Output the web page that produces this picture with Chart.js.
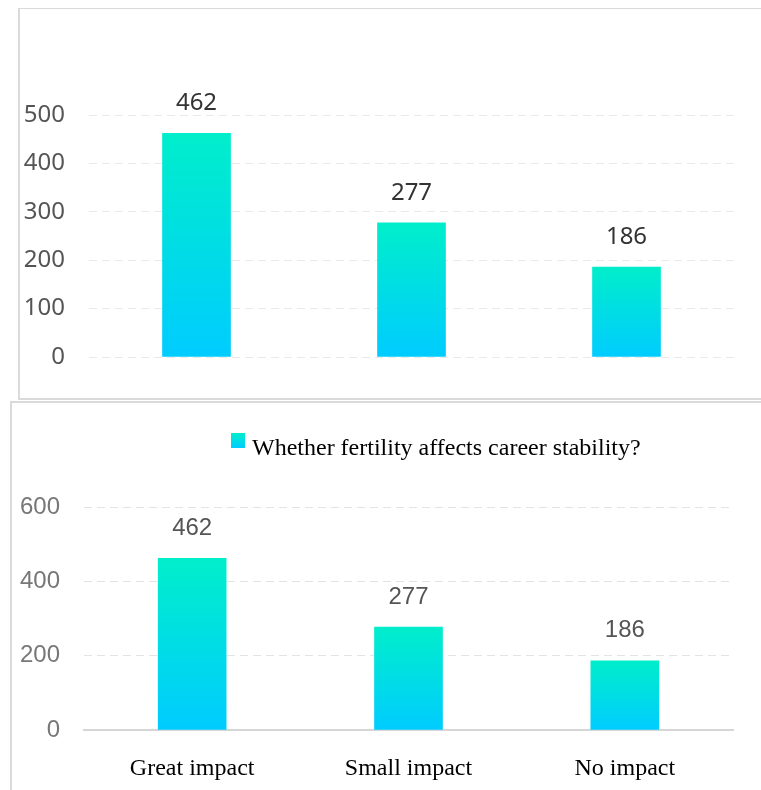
<!DOCTYPE html>
<html>
<head>
<meta charset="utf-8">
<script src="https://cdn.jsdelivr.net/npm/chart.js@4/dist/chart.umd.min.js"></script>
<style>
  html, body { margin: 0; padding: 0; background: #fff; }
  body { width: 761px; height: 790px; position: relative; overflow: hidden; }
  .line { position: absolute; background: #dadada; }
  .panel { position: absolute; }
</style>
</head>
<body>
<!-- panel frames -->
<div class="line" style="left:18px; top:8px; width:743px; height:1px;"></div>
<div class="line" style="left:18px; top:8px; width:2px; height:391px;"></div>
<div class="line" style="left:18px; top:398px; width:743px; height:2px;"></div>
<div class="line" style="left:10px; top:401px; width:751px; height:2px;"></div>
<div class="line" style="left:10px; top:401px; width:2px; height:389px;"></div>

<div class="panel" style="left:20px; top:9px; width:741px; height:389px;"><canvas id="topChart"></canvas></div>
<div class="panel" style="left:12px; top:403px; width:749px; height:387px;"><canvas id="bottomChart"></canvas></div>

<script>
// survey answers
const categories = ['Great impact', 'Small impact', 'No impact'];
const responses = [462, 277, 186];
const seriesLabel = 'Whether fertility affects career stability?';
const topTicks = [0, 100, 200, 300, 400, 500];
const bottomTicks = [0, 200, 400, 600];

const GREEN = '#00eecb';
const CYAN = '#00ccff';

// vertical gradient per bar, running from the bar's top down to its base
function barGradient(context) {
  const chart = context.chart;
  const y = chart.scales && chart.scales.y;
  if (!chart.chartArea || !y || context.parsed === undefined) return CYAN;
  const top = y.getPixelForValue(context.raw);
  const base = y.getPixelForValue(0);
  if (!isFinite(top) || !isFinite(base) || top === base) return CYAN;
  const g = chart.ctx.createLinearGradient(0, top, 0, base);
  g.addColorStop(0, GREEN);
  g.addColorStop(1, CYAN);
  return g;
}

// numbers written above each bar
const valueLabels = {
  id: 'valueLabels',
  afterDatasetsDraw(chart, args, opts) {
    const ctx = chart.ctx;
    const meta = chart.getDatasetMeta(0);
    ctx.save();
    ctx.font = opts.font;
    ctx.fillStyle = opts.color;
    ctx.textAlign = 'center';
    ctx.textBaseline = 'middle';
    meta.data.forEach((bar, i) => {
      ctx.fillText(String(chart.data.datasets[0].data[i]), bar.x, bar.y - opts.offset);
    });
    ctx.restore();
  }
};

// single-entry legend: gradient swatch plus series name
const swatchLegend = {
  id: 'swatchLegend',
  afterDraw(chart, args, opts) {
    if (!opts.show) return;
    const ctx = chart.ctx;
    const x = chart.chartArea.left + opts.dx;
    const y = chart.chartArea.top + opts.dy;
    ctx.save();
    const g = ctx.createLinearGradient(0, y, 0, y + 15);
    g.addColorStop(0, GREEN);
    g.addColorStop(1, CYAN);
    ctx.fillStyle = g;
    ctx.fillRect(x, y, 14, 15);
    ctx.font = '24px "Liberation Serif", "Times New Roman", serif';
    ctx.fillStyle = '#000';
    ctx.textAlign = 'left';
    ctx.textBaseline = 'alphabetic';
    ctx.fillText(chart.data.datasets[0].label, x + 21, y + 22);
    ctx.restore();
  }
};

Chart.register(valueLabels, swatchLegend);

// upper chart: 0-500 scale, no category labels
new Chart(document.getElementById('topChart'), {
  type: 'bar',
  data: {
    labels: categories,
    datasets: [{
      label: seriesLabel,
      data: responses,
      backgroundColor: barGradient,
      barThickness: 68
    }]
  },
  options: {
    responsive: true,
    maintainAspectRatio: false,
    animation: false,
    devicePixelRatio: 1,
    layout: { padding: { top: 106, bottom: 41, left: 0, right: 27 } },
    plugins: {
      legend: { display: false },
      tooltip: { enabled: false },
      valueLabels: { font: '24px "Noto Sans", "Open Sans", sans-serif', color: '#333', offset: 30 },
      swatchLegend: { show: false }
    },
    scales: {
      x: { display: false },
      y: {
        min: 0,
        max: topTicks[topTicks.length - 1],
        afterBuildTicks: s => { s.ticks = topTicks.map(v => ({ value: v })); },
        afterFit: s => { s.width = 69; },
        border: { display: false, dash: [8, 5] },
        grid: { color: '#e9e9e9', lineWidth: 1, drawTicks: false },
        ticks: { padding: 24, color: '#555', font: { family: '"Noto Sans", "Open Sans", sans-serif', size: 24 } }
      }
    }
  }
});

// lower chart: 0-600 scale with category axis and legend
new Chart(document.getElementById('bottomChart'), {
  type: 'bar',
  data: {
    labels: categories,
    datasets: [{
      label: seriesLabel,
      data: responses,
      backgroundColor: barGradient,
      barThickness: 68
    }]
  },
  options: {
    responsive: true,
    maintainAspectRatio: false,
    animation: false,
    devicePixelRatio: 1,
    layout: { padding: { top: 104, bottom: 0, left: 0, right: 28 } },
    plugins: {
      legend: { display: false },
      tooltip: { enabled: false },
      valueLabels: { font: '24px "Liberation Sans", Arial, sans-serif', color: '#555', offset: 30 },
      swatchLegend: { show: true, dx: 147, dy: -74 }
    },
    scales: {
      x: {
        afterFit: s => { s.height = 60; },
        grid: { display: false, drawTicks: false },
        border: { display: true, color: '#d6d6d6', width: 2 },
        ticks: { padding: 24, color: '#000', font: { family: '"Liberation Serif", "Times New Roman", serif', size: 24 } }
      },
      y: {
        min: 0,
        max: bottomTicks[bottomTicks.length - 1],
        afterBuildTicks: s => { s.ticks = bottomTicks.map(v => ({ value: v })); },
        afterFit: s => { s.width = 72; },
        border: { display: false, dash: [8, 5] },
        grid: {
          color: c => (c.tick && c.tick.value === 0 ? 'rgba(0,0,0,0)' : '#e3e3e3'),
          lineWidth: 1,
          drawTicks: false
        },
        ticks: { padding: 24, color: '#777', font: { family: '"Liberation Sans", Arial, sans-serif', size: 24 } }
      }
    }
  }
});
</script>
</body>
</html>
